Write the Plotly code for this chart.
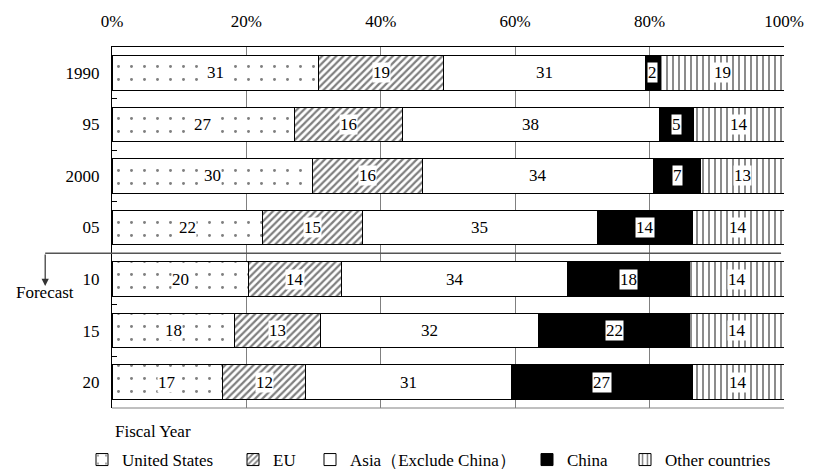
import plotly.graph_objects as go

# ---- data ----
years = ["1990", "95", "2000", "05", "10", "15", "20"]
regions = ["United States", "EU", "Asia（Exclude China）", "China", "Other countries"]

# bar shares (%)
us_share = [30.8, 27.1, 29.8, 22.4, 20.3, 18.3, 16.5]
eu_share = [18.6, 16.2, 16.4, 14.9, 13.9, 12.8, 12.3]
asia_share = [30.0, 38.1, 34.4, 34.9, 33.6, 32.4, 30.7]
china_share = [2.2, 5.1, 7.0, 14.2, 18.2, 22.5, 26.9]
other_share = [18.4, 13.5, 12.4, 13.6, 14.0, 14.0, 13.6]

# printed labels
us_label = [31, 27, 30, 22, 20, 18, 17]
eu_label = [19, 16, 16, 15, 14, 13, 12]
asia_label = [31, 38, 34, 35, 34, 32, 31]
china_label = [2, 5, 7, 14, 18, 22, 27]
other_label = [19, 14, 13, 14, 14, 14, 14]

x_ticks = [0, 20, 40, 60, 80, 100]
x_ticktext = ["0%", "20%", "40%", "60%", "80%", "100%"]

shares = [us_share, eu_share, asia_share, china_share, other_share]
labels = [us_label, eu_label, asia_label, china_label, other_label]

FONT = "Liberation Serif"
W, H = 816, 470
ML, MR, MT, MB = 112, 20, 44, 62
PW, PH = W - ML - MR, H - MT - MB

ypos = list(range(len(years)))
n = len(years)

styles = [
    dict(color="white", pattern=dict(shape=".", fgcolor="black", bgcolor="white", size=13, solidity=0.04)),
    dict(color="white", pattern=dict(shape="/", fgcolor="black", bgcolor="white", size=5, solidity=0.45)),
    dict(color="white"),
    dict(color="black"),
    dict(color="white", pattern=dict(shape="|", fgcolor="black", bgcolor="white", size=6, solidity=0.3)),
]

legend_text_x = [122, 273, 350, 567, 665]

fig = go.Figure()
legend_names = ["legend", "legend2", "legend3", "legend4", "legend5"]
for i in range(5):
    fig.add_trace(go.Bar(
        y=ypos, x=shares[i], orientation="h", name=regions[i],
        marker=dict(line=dict(color="black", width=1), **styles[i]),
        legend=legend_names[i], hoverinfo="skip", width=0.67,
    ))

# value labels with white boxes
annotations = []
for r in range(n):
    cum = 0
    for i in range(5):
        v = shares[i][r]
        annotations.append(dict(
            x=cum + v / 2, y=ypos[r], xref="x", yref="y",
            text=str(labels[i][r]), showarrow=False,
            font=dict(family=FONT, size=17, color="black"),
            bgcolor="white", borderpad=0,
        ))
        cum += v

def px_to_paper_x(px):
    return (px - ML) / PW

def px_to_paper_y(py):
    return (MT + PH - py) / PH

annotations.append(dict(
    x=px_to_paper_x(113), y=px_to_paper_y(432), xref="paper", yref="paper",
    text="Fiscal Year", showarrow=False, xanchor="left", yanchor="middle",
    font=dict(family=FONT, size=17, color="black"),
))
annotations.append(dict(
    x=px_to_paper_x(12), y=px_to_paper_y(292), xref="paper", yref="paper",
    text="Forecast", showarrow=False, xanchor="left", yanchor="middle",
    font=dict(family=FONT, size=17, color="black"),
))
annotations.append(dict(
    x=px_to_paper_x(44), y=px_to_paper_y(285), xref="paper", yref="paper",
    text="", showarrow=True, ax=0, ay=-33,
    arrowhead=2, arrowsize=1.2, arrowwidth=1.2, arrowcolor="#333333",
))

shapes = [
    dict(type="line", xref="paper", yref="y", x0=px_to_paper_x(44), x1=px_to_paper_x(793),
         y0=3.5, y1=3.5, line=dict(color="#555555", width=1.5)),
    dict(type="line", xref="paper", yref="paper", x0=0, x1=1, y0=0, y1=0,
         line=dict(color="#808080", width=1)),
]

layout_legends = {}
for i, ln in enumerate(legend_names):
    layout_legends[ln] = dict(
        x=(legend_text_x[i] - 40) / W, xref="container", xanchor="left",
        y=1 - 460 / H, yref="container", yanchor="middle",
        orientation="h", bgcolor="rgba(0,0,0,0)", borderwidth=0,
        font=dict(family=FONT, size=17, color="black"),
        itemclick=False, itemdoubleclick=False,
    )

fig.update_layout(
    width=W, height=H,
    margin=dict(l=ML, r=MR, t=MT, b=MB),
    barmode="stack",
    plot_bgcolor="white", paper_bgcolor="white",
    font=dict(family=FONT, size=17, color="black"),
    showlegend=True,
    annotations=annotations, shapes=shapes,
    xaxis=dict(
        side="top", range=[0, 100], tickvals=x_ticks, ticktext=x_ticktext,
        showgrid=True, gridcolor="#808080", gridwidth=1, zeroline=False,
        showline=True, linecolor="black", linewidth=1, ticks="",
        ticklabelstandoff=12,
        tickfont=dict(family=FONT, size=17, color="black"),
        fixedrange=True,
    ),
    yaxis=dict(
        range=[n - 0.5, -0.5], tickvals=ypos, ticktext=years,
        showline=True, linecolor="black", linewidth=1,
        ticks="", showgrid=False, zeroline=False,
        ticklabelstandoff=8,
        minor=dict(tickvals=[p + 0.5 for p in ypos[:-1]], ticks="inside",
                   ticklen=5, tickcolor="black", showgrid=False),
        tickfont=dict(family=FONT, size=17, color="black"),
        fixedrange=True,
    ),
    **layout_legends,
)

fig.write_html("out.html")
